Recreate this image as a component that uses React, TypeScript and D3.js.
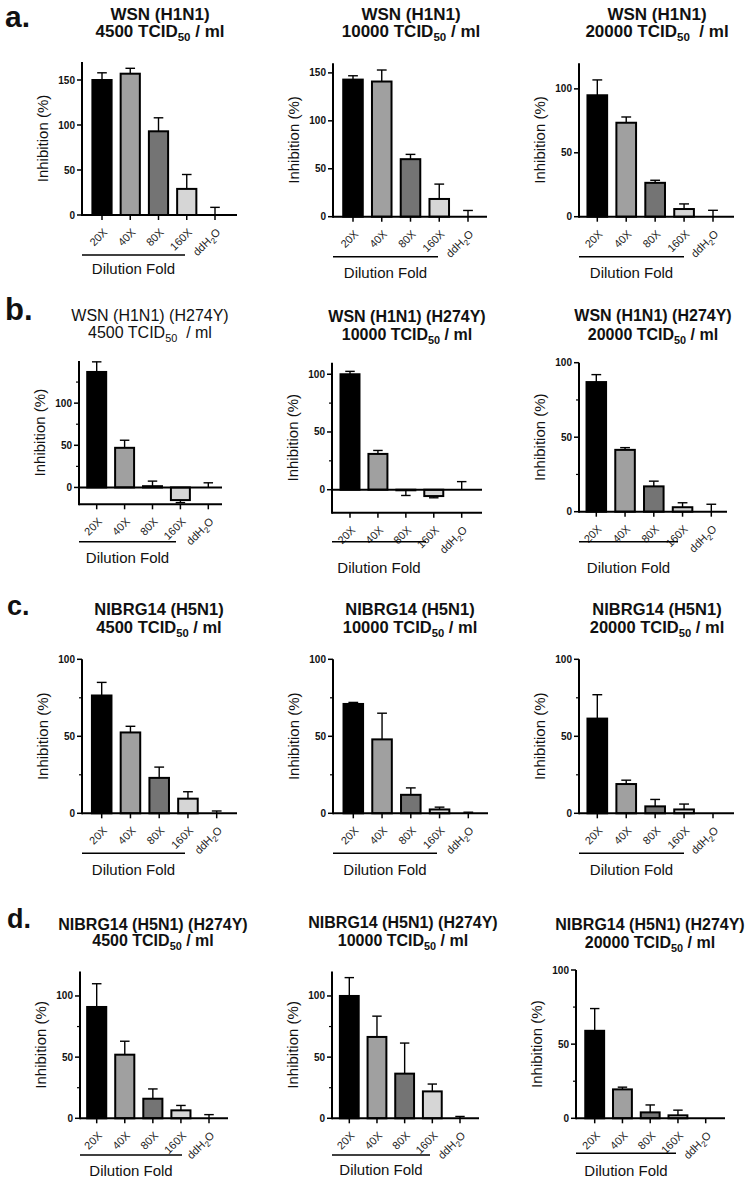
import React from 'react';
import * as d3 from 'd3';

// ---------- data ----------
const categories = ['20X', '40X', '80X', '160X', 'ddH2O'];
const barColors = ['#000000', '#a0a0a0', '#747474', '#d6d6d6', '#ffffff'];

const virusNames = ['WSN (H1N1)', 'WSN (H1N1) (H274Y)', 'NIBRG14 (H5N1)', 'NIBRG14 (H5N1) (H274Y)'];
const doses = ['4500', '10000', '20000'];
const panelLetters = ['a.', 'b.', 'c.', 'd.'];
const yAxisTitle = 'Inhibition (%)';
const xGroupTitle = 'Dilution Fold';

const valuesA1 = [150, 157, 93, 29, 0];
const errorsA1 = [8, 6, 15, 16, 8.5];
const valuesA2 = [143, 141, 60, 18.5, 0];
const errorsA2 = [4, 12, 5, 15.5, 6.5];
const valuesA3 = [95, 73.5, 26.5, 6, 0];
const errorsA3 = [12, 4.5, 2, 4, 5];

const valuesB1 = [137, 47, 1.5, -15, 0];
const errorsB1 = [12, 9, 6, 3, 5.5];
const valuesB2 = [100, 31, -0.5, -5.5, 0];
const errorsB2 = [2.5, 3, 4.5, 1.5, 7];
const valuesB3 = [87, 41.5, 17, 3, 0];
const errorsB3 = [5, 1.5, 3.5, 3, 5];

const valuesC1 = [76.5, 52.5, 23, 9.5, 0];
const errorsC1 = [8.5, 4, 7, 4.5, 1.5];
const valuesC2 = [71, 48, 12, 2.5, 0];
const errorsC2 = [1, 17, 4.5, 1.5, 0.7];
const valuesC3 = [61.5, 19, 4.5, 2.5, 0];
const errorsC3 = [15.5, 2.5, 4.5, 3.5, 0];

const valuesD1 = [91, 52, 16, 6.5, 0];
const errorsD1 = [19, 11, 8, 4, 3];
const valuesD2 = [100, 66.5, 36.5, 22, 0];
const errorsD2 = [15, 17, 25, 6, 1.5];
const valuesD3 = [59, 19.5, 4, 2, 0];
const errorsD3 = [15, 1.5, 5, 3.5, 0];

const domains = [
  [0, 170], [0, 160], [0, 120],
  [-20, 150], [-20, 110], [0, 100],
  [0, 100], [0, 100], [0, 100],
  [0, 120], [0, 120], [0, 100],
];
const majorTicks = [
  [0, 50, 100, 150], [0, 50, 100, 150], [0, 50, 100],
  [0, 50, 100], [0, 50, 100], [0, 50, 100],
  [0, 50, 100], [0, 50, 100], [0, 50, 100],
  [0, 50, 100], [0, 50, 100], [0, 50, 100],
];
const minorTicks = [
  [], [], [],
  [25, 75, 125], [25, 75], [25, 75],
  [25, 75], [25, 75], [25, 75],
  [25, 75], [25, 75], [25, 75],
];

const panelValues = [valuesA1, valuesA2, valuesA3, valuesB1, valuesB2, valuesB3, valuesC1, valuesC2, valuesC3, valuesD1, valuesD2, valuesD3];
const panelErrors = [errorsA1, errorsA2, errorsA3, errorsB1, errorsB2, errorsB3, errorsC1, errorsC2, errorsC3, errorsD1, errorsD2, errorsD3];

// ---------- layout (positions only) ----------
type Layout = {
  x0: number; x1: number; yB: number; yT: number; t0: number; t4: number;
  lineY: number; lineX1: number; foldY: number; tx: number; ty1: number; ty2: number;
  gap?: boolean;
};
const layouts: Layout[] = [
  { x0: 82, x1: 237, yB: 215, yT: 62, t0: 102, t4: 215, lineY: 255, lineX1: 185, foldY: 274, tx: 160, ty1: 20, ty2: 37 },
  { x0: 333, x1: 487, yB: 216.7, yT: 63.3, t0: 353, t4: 468, lineY: 256.7, lineX1: 438, foldY: 278, tx: 411, ty1: 20, ty2: 37 },
  { x0: 579, x1: 734, yB: 216.7, yT: 63.3, t0: 597.3, t4: 713, lineY: 256.7, lineX1: 684, foldY: 278, tx: 657, ty1: 20, ty2: 37, gap: true },
  { x0: 79, x1: 222, yB: 504.3, yT: 361, t0: 96.7, t4: 208.3, lineY: 541.7, lineX1: 176, foldY: 563, tx: 150, ty1: 321, ty2: 338, gap: true },
  { x0: 332, x1: 482, yB: 512.8, yT: 362.7, t0: 350, t4: 461.7, lineY: 541.7, lineX1: 426, foldY: 573, tx: 407, ty1: 322, ty2: 340 },
  { x0: 579, x1: 727, yB: 511.7, yT: 362.7, t0: 596.3, t4: 711.3, lineY: 541.7, lineX1: 678, foldY: 573, tx: 653, ty1: 321, ty2: 340 },
  { x0: 82, x1: 237, yB: 813.3, yT: 659.3, t0: 101.7, t4: 216.7, lineY: 853.3, lineX1: 185, foldY: 875, tx: 159, ty1: 615, ty2: 633 },
  { x0: 333, x1: 488, yB: 813.3, yT: 659.3, t0: 353.3, t4: 468.3, lineY: 853.3, lineX1: 437, foldY: 875, tx: 410, ty1: 615, ty2: 633 },
  { x0: 579, x1: 734, yB: 813.3, yT: 659.3, t0: 597.3, t4: 713, lineY: 853.3, lineX1: 684, foldY: 875, tx: 657, ty1: 615, ty2: 633 },
  { x0: 80, x1: 228, yB: 1118.3, yT: 971.5, t0: 96.7, t4: 209, lineY: 1155, lineX1: 182, foldY: 1176, tx: 153, ty1: 930, ty2: 946 },
  { x0: 332, x1: 479, yB: 1118.3, yT: 971.5, t0: 349.3, t4: 460, lineY: 1155, lineX1: 430, foldY: 1175, tx: 403, ty1: 928, ty2: 946 },
  { x0: 576, x1: 725, yB: 1118.3, yT: 970, t0: 594.7, t4: 705.7, lineY: 1153.3, lineX1: 676, foldY: 1176, tx: 650, ty1: 930, ty2: 948 },
];
const rowTitleSize = [17, 16, 16.5, 16];
const letterPos = [
  { x: 5, y: 27, size: 30 },
  { x: 5, y: 320, size: 31 },
  { x: 7, y: 615, size: 27 },
  { x: 7, y: 928, size: 27 },
];

const FONT = 'Liberation Sans, Arial, Helvetica, sans-serif';

function Panel({ idx }: { idx: number }) {
  const L = layouts[idx];
  const row = Math.floor(idx / 3);
  const col = idx % 3;
  const values = panelValues[idx];
  const errors = panelErrors[idx];
  const dom = domains[idx];
  const y = d3.scaleLinear().domain(dom).range([L.yB, L.yT]);
  const x = d3.scalePoint<string>().domain(categories).range([L.t0, L.t4]);
  const step = x.step();
  const bw = step * 0.68;
  const capW = bw * 0.5;
  const titleBold = !(row === 1 && col === 0);
  const fs = rowTitleSize[row];
  const yBottom = y(dom[0]);
  const yTop = y(dom[1]);
  const zeroY = y(0);

  return (
    <g fontFamily={FONT}>
      {/* title */}
      <text x={L.tx} y={L.ty1} textAnchor="middle" fontSize={fs} fontWeight={titleBold ? 'bold' : 'normal'} fill="#111">
        {virusNames[row]}
      </text>
      <text x={L.tx} y={L.ty2} textAnchor="middle" fontSize={fs} fontWeight={titleBold ? 'bold' : 'normal'} fill="#111" style={{ whiteSpace: 'pre' }}>
        {doses[col] + ' TCID'}
        <tspan fontSize={fs * 0.68} dy={4}>50</tspan>
        <tspan dy={-4}>{(L.gap ? '  ' : ' ') + '/ ml'}</tspan>
      </text>

      {/* bars */}
      {categories.map((c, i) => {
        const v = values[i];
        if (v === 0) return null;
        const top = y(Math.max(0, v));
        const bot = y(Math.min(0, v));
        return (
          <rect key={c} x={(x(c) as number) - bw / 2} y={top} width={bw} height={Math.max(0.5, bot - top)}
            fill={barColors[i]} stroke="#000" strokeWidth={2} />
        );
      })}
      {/* error bars */}
      {categories.map((c, i) => {
        const v = values[i];
        const e = errors[i];
        if (e <= 0) return null;
        const cx = x(c) as number;
        const y1 = y(v);
        const y2 = v < 0 ? y(v - e) : y(v + e);
        return (
          <g key={c} stroke="#000" strokeWidth={1.4}>
            <line x1={cx} x2={cx} y1={y1} y2={y2} />
            <line x1={cx - capW / 2} x2={cx + capW / 2} y1={y2} y2={y2} />
          </g>
        );
      })}

      {/* axes */}
      <line x1={L.x0} x2={L.x0} y1={yTop} y2={yBottom + 1} stroke="#000" strokeWidth={2} />
      <line x1={L.x0} x2={L.x1} y1={yBottom} y2={yBottom} stroke="#000" strokeWidth={2} />
      {dom[0] < 0 && (
        <line x1={L.x0} x2={L.x1} y1={zeroY} y2={zeroY} stroke="#000" strokeWidth={2} />
      )}
      {majorTicks[idx].map((t) => (
        <g key={'m' + t}>
          <line x1={L.x0 - 5} x2={L.x0} y1={y(t)} y2={y(t)} stroke="#000" strokeWidth={1.5} />
          <text x={L.x0 - 7} y={y(t)} dy="0.35em" textAnchor="end" fontSize={10} fontWeight="bold" fill="#111">{t}</text>
        </g>
      ))}
      {minorTicks[idx].map((t) => (
        <line key={'n' + t} x1={L.x0 - 3} x2={L.x0} y1={y(t)} y2={y(t)} stroke="#000" strokeWidth={1.2} />
      ))}
      {categories.map((c) => (
        <line key={'xt' + c} x1={x(c) as number} x2={x(c) as number} y1={yBottom} y2={yBottom + 5} stroke="#000" strokeWidth={1.5} />
      ))}
      {categories.map((c) => {
        const px = (x(c) as number) + 6;
        const py = yBottom + 18;
        return (
          <text key={'xl' + c} transform={`translate(${px},${py}) rotate(-45)`} textAnchor="end" fontSize={11} fill="#222">
            {c === 'ddH2O' ? (
              <>
                ddH<tspan fontSize={8} dy={3}>2</tspan><tspan dy={-3}>O</tspan>
              </>
            ) : c}
          </text>
        );
      })}

      {/* y label */}
      <text transform={`translate(${L.x0 - 39},${(yTop + yBottom) / 2}) rotate(-90)`} textAnchor="middle" dy="0.35em" fontSize={15} fill="#111">
        {yAxisTitle}
      </text>

      {/* group line + label */}
      <line x1={L.x0} x2={L.lineX1} y1={L.lineY} y2={L.lineY} stroke="#000" strokeWidth={1.5} />
      <text x={(L.x0 + L.lineX1) / 2} y={L.foldY} textAnchor="middle" fontSize={15} fill="#111">{xGroupTitle}</text>
    </g>
  );
}

export default function App() {
  return (
    <svg width={748} height={1181} viewBox="0 0 748 1181" style={{ position: 'absolute', left: 0, top: 0, background: '#fff' }}>
      <rect x={0} y={0} width={748} height={1181} fill="#fff" />
      {panelLetters.map((l, i) => (
        <text key={l} x={letterPos[i].x} y={letterPos[i].y} fontFamily={FONT} fontWeight="bold" fontSize={letterPos[i].size} fill="#111">{l}</text>
      ))}
      {layouts.map((_, i) => (
        <Panel key={i} idx={i} />
      ))}
    </svg>
  );
}
